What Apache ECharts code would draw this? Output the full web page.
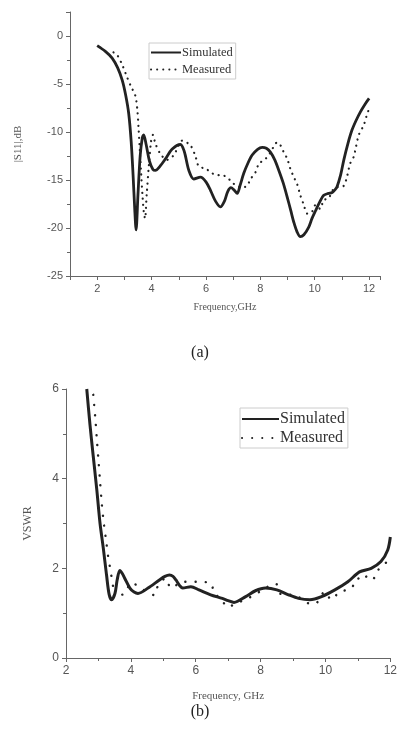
<!DOCTYPE html>
<html>
<head>
<meta charset="utf-8">
<script src="https://cdn.jsdelivr.net/npm/echarts@6/dist/echarts.min.js"></script>
<style>
html,body{margin:0;padding:0;background:#fff;}
#c{width:400px;height:742px;}
</style>
</head>
<body>
<div id="c"></div>
<script>
// ---- Data: chart (a) |S11| (dB) vs frequency (GHz) ----
var simA = [[2.0,-1.0],[2.3,-1.6],[2.55,-2.3],[2.75,-3.3],[2.92,-4.6],[3.05,-6.2],[3.16,-8.1],[3.25,-11],[3.32,-14.5],[3.38,-18],[3.43,-20.2],[3.5,-16.5],[3.58,-12.5],[3.66,-10.6],[3.71,-10.3],[3.8,-11.3],[3.92,-13],[4.05,-13.9],[4.14,-14.0],[4.3,-13.6],[4.51,-12.8],[4.75,-11.8],[5.06,-11.3],[5.2,-12.0],[5.37,-14.0],[5.55,-14.9],[5.8,-14.7],[6.0,-15.2],[6.17,-16.1],[6.35,-17.2],[6.53,-17.8],[6.68,-17.2],[6.8,-16.2],[6.92,-15.8],[7.02,-16.0],[7.15,-16.4],[7.25,-15.6],[7.39,-14.3],[7.55,-13.2],[7.7,-12.4],[7.9,-11.8],[8.07,-11.6],[8.22,-11.7],[8.37,-12.1],[8.53,-12.9],[8.68,-14.0],[8.84,-15.3],[8.99,-16.8],[9.12,-18.2],[9.23,-19.4],[9.35,-20.4],[9.47,-20.9],[9.6,-20.7],[9.78,-19.9],[9.9,-19.0],[10.03,-18.2],[10.18,-17.3],[10.33,-16.6],[10.5,-16.4],[10.64,-16.3],[10.75,-16.0],[10.82,-15.7],[10.95,-14.5],[11.07,-12.9],[11.22,-11.2],[11.37,-9.8],[11.52,-8.8],[11.68,-7.9],[11.85,-7.1],[12.0,-6.5]];
var measA = [[2.6,-1.7],[2.74,-2.0],[2.92,-3.0],[3.1,-4.3],[3.25,-5.3],[3.4,-6.2],[3.47,-7.5],[3.52,-9.5],[3.57,-12],[3.62,-14.5],[3.67,-16.8],[3.72,-18.5],[3.76,-19.0],[3.82,-16.5],[3.9,-13.5],[3.98,-11],[4.05,-10.3],[4.14,-11.2],[4.33,-12.3],[4.57,-12.9],[4.82,-12.4],[5.13,-10.9],[5.43,-11.4],[5.61,-12.5],[5.74,-13.6],[5.98,-13.8],[6.23,-14.3],[6.41,-14.5],[6.6,-14.5],[6.84,-14.9],[7.02,-15.4],[7.3,-15.8],[7.51,-15.6],[7.64,-14.9],[7.82,-14.2],[7.95,-13.3],[8.19,-12.8],[8.4,-12.0],[8.55,-11.2],[8.65,-11.1],[8.86,-12.1],[8.99,-12.8],[9.1,-13.8],[9.23,-14.7],[9.35,-15.4],[9.47,-16.6],[9.6,-17.6],[9.72,-18.5],[9.9,-18.3],[10.03,-17.6],[10.2,-18.0],[10.33,-17.1],[10.51,-16.9],[10.7,-15.9],[10.9,-15.7],[11.07,-15.6],[11.2,-14.5],[11.3,-13.3],[11.43,-12.6],[11.52,-11.5],[11.62,-10.3],[11.8,-9.3],[11.93,-8.1],[12.0,-7.6]];

// ---- Data: chart (b) VSWR vs frequency (GHz) ----
var simB = [[2.64,6.0],[2.74,5.2],[2.84,4.5],[2.95,3.75],[3.05,3.0],[3.15,2.45],[3.25,1.85],[3.33,1.42],[3.41,1.30],[3.51,1.44],[3.58,1.75],[3.66,1.95],[3.74,1.88],[3.81,1.78],[3.97,1.56],[4.1,1.47],[4.22,1.44],[4.53,1.56],[4.88,1.74],[5.05,1.82],[5.19,1.85],[5.3,1.82],[5.39,1.74],[5.5,1.62],[5.6,1.56],[5.85,1.59],[6.1,1.52],[6.46,1.41],[6.82,1.33],[7.0,1.28],[7.18,1.24],[7.54,1.37],[7.84,1.50],[8.15,1.56],[8.5,1.52],[8.86,1.41],[9.17,1.33],[9.52,1.30],[9.88,1.37],[10.29,1.52],[10.69,1.70],[11.05,1.92],[11.41,2.0],[11.71,2.15],[11.92,2.41],[12.0,2.7]];
var measB = [[2.84,5.87],[2.9,5.38],[2.95,4.89],[3.0,4.42],[3.05,3.94],[3.1,3.46],[3.17,2.98],[3.24,2.6],[3.3,2.26],[3.36,2.0],[3.41,1.78],[3.46,1.55],[3.5,1.35],[3.6,1.38],[3.71,1.41],[3.8,1.43],[4.02,1.68],[4.12,1.65],[4.33,1.55],[4.53,1.46],[4.73,1.40],[4.83,1.60],[5.07,1.78],[5.24,1.56],[5.6,1.70],[6.0,1.70],[6.46,1.67],[6.57,1.43],[6.72,1.36],[7.02,1.13],[7.21,1.22],[7.54,1.30],[7.84,1.43],[8.09,1.52],[8.38,1.65],[8.48,1.65],[8.65,1.41],[8.96,1.41],[9.17,1.36],[9.47,1.22],[9.68,1.21],[9.98,1.48],[10.18,1.30],[10.44,1.48],[10.78,1.54],[11.0,1.78],[11.1,1.72],[11.25,1.81],[11.36,1.87],[11.51,1.78],[11.66,2.0],[11.97,2.18]];

// ---- Text ----
var xTitleA = 'Frequency,GHz';
var yTitleA = '|S11|,dB';
var xTitleB = 'Frequency, GHz';
var yTitleB = 'VSWR';
var legendNames = ['Simulated', 'Measured'];
var captions = ['(a)', '(b)'];

var serif = '"Liberation Serif", "DejaVu Serif", serif';
var sans = '"Liberation Sans", Arial, sans-serif';
var axisCol = '#666';
var labelCol = '#555';
var lineCol = '#222';

var chart = echarts.init(document.getElementById('c'), null, {renderer: 'canvas'});

function axisCommon(fs) {
  return {
    axisLine: {show: true, onZero: false, lineStyle: {color: axisCol, width: 1}},
    axisTick: {show: true, inside: false, length: 4, lineStyle: {color: axisCol}},
    splitLine: {show: false},
    axisLabel: {color: labelCol, fontFamily: sans, fontSize: fs, margin: 7}
  };
}

var xA = Object.assign(axisCommon(11), {
  type: 'value', gridIndex: 0, min: 1, max: 12.4, interval: 1,
  name: xTitleA, nameLocation: 'middle', nameGap: 26,
  nameTextStyle: {fontFamily: serif, fontSize: 10, color: labelCol}
});
xA.axisLabel.formatter = function (v) { return (Math.abs(v % 2) < 1e-9) ? String(v) : ''; };

var yA = Object.assign(axisCommon(11), {
  type: 'value', gridIndex: 0, min: -25, max: 2.5, interval: 5,
  minorTick: {show: true, splitNumber: 2, length: 3, lineStyle: {color: axisCol}},
  name: yTitleA, nameLocation: 'middle', nameGap: 46, nameRotate: 90,
  nameTextStyle: {fontFamily: serif, fontSize: 11, color: labelCol}
});
yA.axisLabel.formatter = function (v) { return (Math.abs(v % 5) < 1e-9) ? String(v) : ''; };

var xB = Object.assign(axisCommon(12), {
  type: 'value', gridIndex: 1, min: 2, max: 12, interval: 2,
  minorTick: {show: true, splitNumber: 2, length: 3, lineStyle: {color: axisCol}},
  name: xTitleB, nameLocation: 'middle', nameGap: 33,
  nameTextStyle: {fontFamily: serif, fontSize: 11, color: labelCol}
});
var yB = Object.assign(axisCommon(12), {
  type: 'value', gridIndex: 1, min: 0, max: 6, interval: 2,
  minorTick: {show: true, splitNumber: 2, length: 3, lineStyle: {color: axisCol}},
  name: yTitleB, nameLocation: 'middle', nameGap: 32, nameRotate: 90,
  nameTextStyle: {fontFamily: serif, fontSize: 12, color: labelCol}
});

var option = {
  backgroundColor: '#fff',
  animation: false,
  title: [
    {text: captions[0], left: 'center', top: 340, textStyle: {fontFamily: serif, fontSize: 16, fontWeight: 'normal', color: '#222'}},
    {text: captions[1], left: 'center', top: 699, textStyle: {fontFamily: serif, fontSize: 16, fontWeight: 'normal', color: '#222'}}
  ],
  grid: [
    {left: 70, top: 12, right: 20, bottom: 466, containLabel: false},
    {left: 66, top: 389, right: 7, bottom: 84, containLabel: false}
  ],
  xAxis: [xA, xB],
  yAxis: [yA, yB],
  legend: [
    {
      data: [legendNames[0], legendNames[1]], orient: 'vertical', left: 149, top: 43,
      itemWidth: 30, itemHeight: 8, itemGap: 4, padding: [3, 3, 3, 1],
      itemStyle: {opacity: 0},
      borderColor: '#ccc', borderWidth: 1, backgroundColor: '#fff',
      textStyle: {fontFamily: serif, fontSize: 12.5, color: '#333', padding: [0, 0, 0, -4]},
      selectedMode: false
    },
    {
      data: [legendNames[0] + ' (b)', legendNames[1] + ' (b)'], orient: 'vertical', left: 240, top: 408,
      itemWidth: 37, itemHeight: 10, itemGap: 3, padding: [3, 3, 2, 1],
      itemStyle: {opacity: 0},
      borderColor: '#ccc', borderWidth: 1, backgroundColor: '#fff',
      formatter: function (n) { return n.replace(' (b)', ''); },
      textStyle: {fontFamily: serif, fontSize: 16, color: '#333', padding: [0, 0, 0, -4]},
      selectedMode: false
    }
  ],
  series: [
    {name: legendNames[1], type: 'line', xAxisIndex: 0, yAxisIndex: 0, data: measA, symbol: 'none', smooth: 0.3,
      lineStyle: {color: lineCol, width: 2.2, type: [0.1, 6], cap: 'round'}, itemStyle: {color: lineCol}, z: 2},
    {name: legendNames[0], type: 'line', xAxisIndex: 0, yAxisIndex: 0, data: simA, symbol: 'none', smooth: 0.3,
      lineStyle: {color: lineCol, width: 2.8, type: 'solid'}, itemStyle: {color: lineCol}, z: 3},
    {name: legendNames[1] + ' (b)', type: 'line', xAxisIndex: 1, yAxisIndex: 1, data: measB, symbol: 'none', smooth: 0.3,
      lineStyle: {color: lineCol, width: 2.4, type: [0.1, 10], cap: 'round'}, itemStyle: {color: lineCol}, z: 2},
    {name: legendNames[0] + ' (b)', type: 'line', xAxisIndex: 1, yAxisIndex: 1, data: simB, symbol: 'none', smooth: 0.3,
      lineStyle: {color: lineCol, width: 3, type: 'solid'}, itemStyle: {color: lineCol}, z: 3}
  ]
};
chart.setOption(option);
</script>
</body>
</html>
